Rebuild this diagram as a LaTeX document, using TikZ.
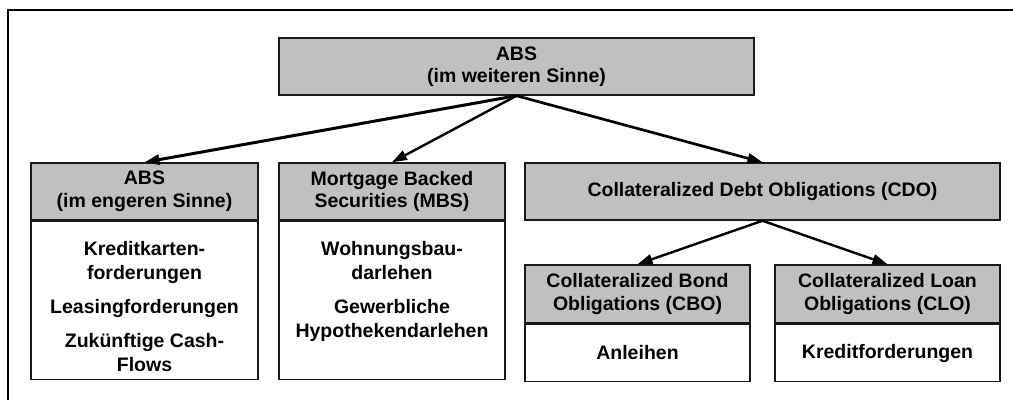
\documentclass[tikz,border=0pt]{standalone}
\usepackage{fontspec}
\setmainfont{Liberation Sans}
\usetikzlibrary{arrows.meta, positioning}
\definecolor{headgray}{HTML}{C0C0C0}
\definecolor{boxline}{HTML}{1A1A1A}
\tikzset{
  head/.style={rectangle, draw=boxline, line width=1.5pt, fill=headgray, align=center, inner sep=0pt, minimum height=57pt, font=\bfseries\fontsize{19.5}{22.5}\selectfont},
  body/.style={rectangle, draw=boxline, line width=1.5pt, fill=white, inner sep=0pt, font=\bfseries\fontsize{19.5}{24}\selectfont},
  arrow/.style={line width=2.4pt, -{Triangle[length=15pt,width=10pt]}},
  frame/.style={line width=1.4pt, black}
}
\newcommand{\colbody}[1]{\parbox[c][150pt][t]{215pt}{\centering\vspace*{16pt}#1}}

\begin{document}
\begin{tikzpicture}[x=1pt, y=-1pt]
    \useasboundingbox (0,0) rectangle (1013,400);

    % Rahmen
    \draw[frame] (1013,10) -- (8,10) -- (8,400);

    % Oberste Ebene
    \node[head, minimum width=475pt] (absw) at (516.5,66.5) {ABS\\(im weiteren Sinne)};

    % ABS im engeren Sinne
    \node[head, minimum width=227pt] (abse) at (144.5,191.5) {ABS\\(im engeren Sinne)};
    \node[body, minimum width=227pt, minimum height=158pt, below=0pt of abse] (abseb)
        {\colbody{Kreditkarten-\\forderungen\\[10pt]Leasingforderungen\\[10pt]Zukünftige Cash-\\Flows}};

    % MBS
    \node[head, minimum width=226pt] (mbs) at (392,191.5) {Mortgage Backed\\Securities (MBS)};
    \node[body, minimum width=226pt, minimum height=158pt, below=0pt of mbs] (mbsb)
        {\colbody{Wohnungsbau-\\darlehen\\[10pt]Gewerbliche\\Hypothekendarlehen}};

    % CDO
    \node[head, minimum width=475pt] (cdo) at (762.5,191.5) {Collateralized Debt Obligations (CDO)};

    % CBO und CLO
    \node[head, minimum width=225pt, minimum height=58pt] (cbo) at (637.5,294) {Collateralized Bond\\Obligations (CBO)};
    \node[body, minimum width=225pt, minimum height=57pt, below=0pt of cbo] (cbob) {Anleihen};

    \node[head, minimum width=225pt, minimum height=58pt] (clo) at (887.5,294) {Collateralized Loan\\Obligations (CLO)};
    \node[body, minimum width=225pt, minimum height=57pt, below=0pt of clo] (clob) {Kreditforderungen};

    % Pfeile
    \draw[arrow, line width=3pt] (absw.south) -- (abse.north);
    \draw[arrow] (absw.south) -- (mbs.north);
    \draw[arrow, line width=2.7pt] (absw.south) -- (cdo.north);
    \draw[arrow] (cdo.south) -- (cbo.north);
    \draw[arrow] (cdo.south) -- (clo.north);

\end{tikzpicture}
\end{document}
